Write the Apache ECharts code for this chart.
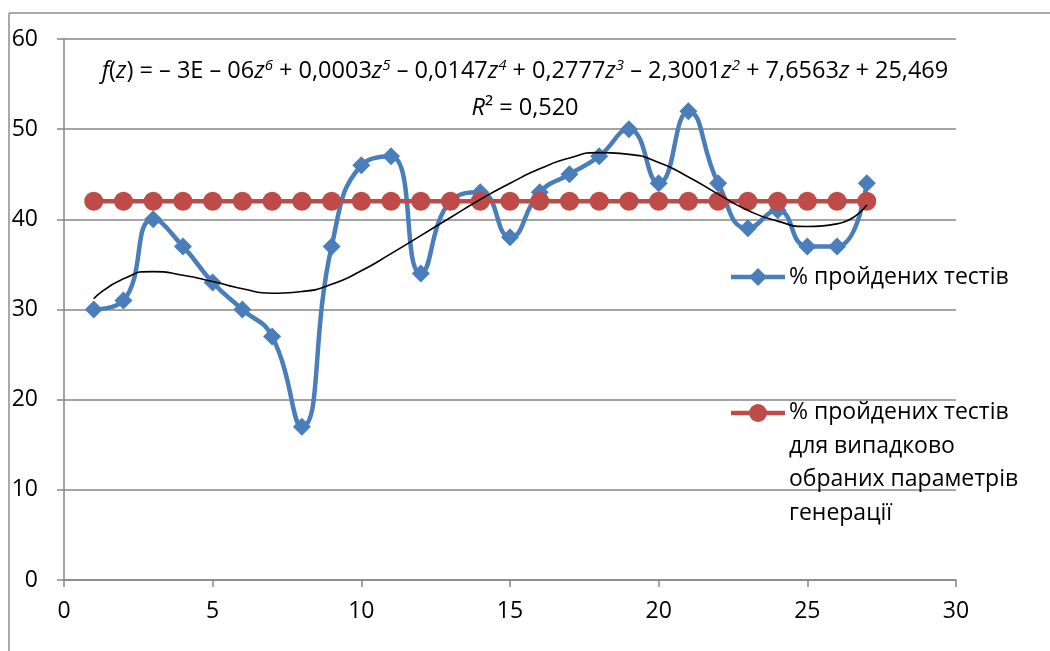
<!DOCTYPE html>
<html>
<head>
<meta charset="utf-8">
<script src="https://cdn.jsdelivr.net/npm/echarts@6/dist/echarts.min.js"></script>
<style>
  html, body { margin: 0; padding: 0; background: #fff; }
  #chart { width: 1050px; height: 651px; }
</style>
</head>
<body>
<div id="chart"></div>
<script>
// ---- data ----
const xValues = [1,2,3,4,5,6,7,8,9,10,11,12,13,14,15,16,17,18,19,20,21,22,23,24,25,26,27];
const passed = [30,31,40,37,33,30,27,17,37,46,47,34,42,43,38,43,45,47,50,44,52,44,39,41,37,37,44];
const randomParams = [42,42,42,42,42,42,42,42,42,42,42,42,42,42,42,42,42,42,42,42,42,42,42,42,42,42,42];
const trend = [31.2,33.4,34.2,33.8,33.1,32.3,31.8,32.0,32.8,34.3,36.2,38.2,40.2,42.2,44.0,45.6,46.8,47.4,47.2,46.3,44.7,42.8,41.0,39.8,39.2,39.5,41.6];
const seriesNames = ['% пройдених тестів', '% пройдених тестів\nдля випадково\nобраних параметрів\nгенерації'];
const xTicks = { min: 0, max: 30, interval: 5 };
const yTicks = { min: 0, max: 60, interval: 10 };

const FONT = '"Open Sans", "Noto Sans", sans-serif';
const BLUE = '#4a7ebb';
const RED = '#be4b48';
const GRAY = '#868686';

const pair = (xs, ys) => xs.map((x, i) => [x, ys[i]]);

const chart = echarts.init(document.getElementById('chart'));
chart.setOption({
  animation: false,
  backgroundColor: '#fff',
  grid: { left: 64, right: 94, top: 39, bottom: 71, containLabel: false },
  xAxis: {
    type: 'value', min: xTicks.min, max: xTicks.max, interval: xTicks.interval,
    axisLine: { show: true, onZero: false, lineStyle: { color: GRAY, width: 1.5 } },
    axisTick: { show: true, length: 7, lineStyle: { color: GRAY, width: 1.5 } },
    axisLabel: { color: '#000', fontFamily: FONT, fontSize: 23, margin: 20 },
    splitLine: { show: false }
  },
  yAxis: {
    type: 'value', min: yTicks.min, max: yTicks.max, interval: yTicks.interval,
    axisLine: { show: true, lineStyle: { color: GRAY, width: 1.5 } },
    axisTick: { show: true, length: 7, lineStyle: { color: GRAY, width: 1.5 } },
    axisLabel: { color: '#000', fontFamily: FONT, fontSize: 23, margin: 26 },
    splitLine: { show: true, lineStyle: { color: GRAY, width: 1.5 } }
  },
  series: [
    {
      name: seriesNames[0], type: 'line', data: pair(xValues, passed),
      smooth: 0.5, symbol: 'diamond', symbolSize: 18,
      lineStyle: { color: BLUE, width: 4.5 }, itemStyle: { color: BLUE }, z: 2
    },
    {
      name: seriesNames[1], type: 'line', data: pair(xValues, randomParams),
      symbol: 'circle', symbolSize: 19,
      lineStyle: { color: RED, width: 4.5 }, itemStyle: { color: RED }, z: 3
    },
    {
      name: 'trend', type: 'line', data: pair(xValues, trend),
      smooth: 0.6, symbol: 'none',
      lineStyle: { color: '#000', width: 1.6 }, z: 4
    }
  ],
  graphic: [
    // outer border
    { type: 'line', shape: { x1: 9, y1: 13, x2: 1050, y2: 13 }, style: { stroke: '#8c8c8c', lineWidth: 1.5 }, silent: true },
    { type: 'line', shape: { x1: 9, y1: 13, x2: 9, y2: 651 }, style: { stroke: '#8c8c8c', lineWidth: 1.5 }, silent: true },
    // equation
    {
      type: 'text', left: 'center', top: 58, z: 10,
      style: {
        text: '{i|f}{n|(}{i|z}{n|) = – 3E – 06}{i|z}{s|6}{n| + 0,0003}{i|z}{s|5}{n| – 0,0147}{i|z}{s|4}{n| + 0,2777}{i|z}{s|3}{n| – 2,3001}{i|z}{s|2}{n| + 7,6563}{i|z}{n| + 25,469}',
        rich: {
          n: { fontFamily: FONT, fontSize: 23.5, fill: '#000' },
          i: { fontFamily: FONT, fontSize: 23.5, fontStyle: 'italic', fill: '#000' },
          s: { fontFamily: FONT, fontSize: 15, fontStyle: 'italic', fill: '#000', verticalAlign: 'top', padding: [0, 0, 12, 0] }
        }
      }
    },
    {
      type: 'text', left: 'center', top: 96, z: 10,
      style: {
        text: '{i|R}{n|² = 0,520}',
        rich: {
          n: { fontFamily: FONT, fontSize: 23.5, fill: '#000' },
          i: { fontFamily: FONT, fontSize: 23.5, fontStyle: 'italic', fill: '#000' }
        }
      }
    },
    // legend item 1
    { type: 'line', shape: { x1: 731, y1: 277, x2: 785, y2: 277 }, style: { stroke: BLUE, lineWidth: 4.5 }, z: 10 },
    { type: 'polygon', shape: { points: [[758, 268], [767, 277], [758, 286], [749, 277]] }, style: { fill: BLUE }, z: 10 },
    { type: 'text', x: 789, y: 277, z: 10, style: { text: seriesNames[0], fontFamily: FONT, fontSize: 23, fill: '#000', verticalAlign: 'middle' } },
    // legend item 2
    { type: 'line', shape: { x1: 731, y1: 413, x2: 785, y2: 413 }, style: { stroke: RED, lineWidth: 4.5 }, z: 10 },
    { type: 'circle', shape: { cx: 758, cy: 413, r: 9 }, style: { fill: RED }, z: 10 },
    { type: 'text', x: 789, y: 396, z: 10, style: { text: seriesNames[1], fontFamily: FONT, fontSize: 23, lineHeight: 33.5, fill: '#000', verticalAlign: 'top' } }
  ]
});
</script>
</body>
</html>
